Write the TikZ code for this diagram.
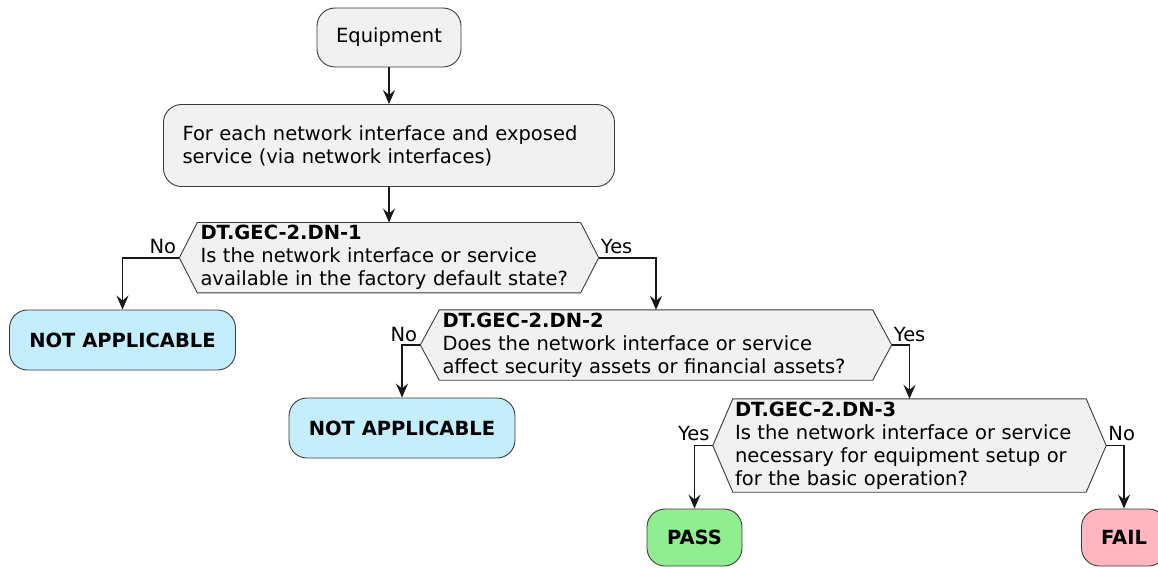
\documentclass[tikz,border=0pt]{standalone}
\usepackage{fontspec}
\setmainfont{DejaVu Sans}
\usetikzlibrary{arrows.meta,backgrounds}
\definecolor{boxgray}{HTML}{F1F1F1}
\definecolor{linecol}{HTML}{181818}
\definecolor{nablue}{HTML}{C4EEFC}
\definecolor{passgreen}{HTML}{90EE90}
\definecolor{failpink}{HTML}{FFB6C1}
\newcommand\hexoutline[2]{%
  \draw[hexline] (#1.west) -- ([xshift=#2]#1.north west) -- ([xshift=-#2]#1.north east)
    -- (#1.east) -- ([xshift=-#2]#1.south east) -- ([xshift=#2]#1.south west) -- cycle;}
\begin{document}
\begin{tikzpicture}[x=1pt,y=-1pt,
  txt/.style={font=\fontsize{19.5pt}{23pt}\selectfont},
  activity/.style={txt, inner sep=0pt, draw=linecol!85, line width=0.9pt, rounded corners=18pt, fill=boxgray},
  result/.style={txt, font=\fontsize{19.5pt}{23pt}\selectfont\bfseries, inner sep=0pt, draw=linecol!85, line width=0.9pt, rounded corners=18pt},
  decision/.style={txt, inner ysep=0pt, align=left},
  hexline/.style={draw=linecol!85, line width=0.9pt, fill=boxgray},
  lbl/.style={txt, inner sep=0pt},
  arr/.style={draw=linecol, line width=1.6pt, -{Stealth[length=14pt,width=12pt,inset=5pt]}}
]
\useasboundingbox (0,0) rectangle (1158,567);

\node[activity, minimum width=144pt, minimum height=59pt] (eq) at (389,37.5) {Equipment};
\node[activity, minimum width=451pt, minimum height=82pt, inner xsep=19pt, text width=413pt, align=left] (loop) at (389,145.5)
  {\mbox{For each network interface and exposed}\\\mbox{service (via network interfaces)}};

\node[decision, minimum width=419pt, minimum height=70pt, inner xsep=21pt, text width=377pt] (d1) at (389,257.7)
  {\mbox{\textbf{DT.GEC-2.DN-1}}\\\mbox{Is the network interface or service}\\\mbox{available in the factory default state?}};
\node[decision, minimum width=471pt, minimum height=70pt, inner xsep=22pt, text width=427pt] (d2) at (656,345)
  {\mbox{\textbf{DT.GEC-2.DN-2}}\\\mbox{Does the network interface or service}\\\mbox{affect security assets or financial assets?}};
\node[decision, minimum width=393pt, minimum height=93pt, inner xsep=22pt, text width=349pt] (d3) at (909.5,445.5)
  {\mbox{\textbf{DT.GEC-2.DN-3}}\\\mbox{Is the network interface or service}\\\mbox{necessary for equipment setup or}\\\mbox{for the basic operation?}};

\begin{scope}[on background layer]
  \hexoutline{d1}{18pt}
  \hexoutline{d2}{19pt}
  \hexoutline{d3}{20pt}
\end{scope}

\node[result, fill=nablue, minimum width=226pt, minimum height=60pt] (na1) at (122.5,340) {NOT APPLICABLE};
\node[result, fill=nablue, minimum width=226pt, minimum height=60pt] (na2) at (402,428) {NOT APPLICABLE};
\node[result, fill=passgreen, minimum width=95pt, minimum height=57pt] (pass) at (694.5,537.5) {PASS};
\node[result, fill=failpink, minimum width=85pt, minimum height=57pt] (fail) at (1124,537.5) {FAIL};

\node[lbl, anchor=base east] (no1) at ([xshift=-3pt,yshift=4pt]d1.west) {No};
\node[lbl, anchor=base west] (yes1) at ([xshift=2pt,yshift=4pt]d1.east) {Yes};
\node[lbl, anchor=base east] (no2) at ([xshift=-3pt,yshift=4pt]d2.west) {No};
\node[lbl, anchor=base west] (yes2) at ([xshift=2pt,yshift=4pt]d2.east) {Yes};
\node[lbl, anchor=base east] (yes3) at ([xshift=-3pt,yshift=5pt]d3.west) {Yes};
\node[lbl, anchor=base west] (no3) at ([xshift=2pt,yshift=5pt]d3.east) {No};

\draw[arr] (eq.south) -- (loop.north);
\draw[arr] (loop.south) -- (d1.north);
\draw[arr] (d1.west) -| (na1.north);
\draw[arr] (d1.east) -| (d2.north);
\draw[arr] (d2.west) -| (na2.north);
\draw[arr] (d2.east) -| (d3.north);
\draw[arr] (d3.west) -| (pass.north);
\draw[arr] (d3.east) -| (fail.north);
\end{tikzpicture}
\end{document}
